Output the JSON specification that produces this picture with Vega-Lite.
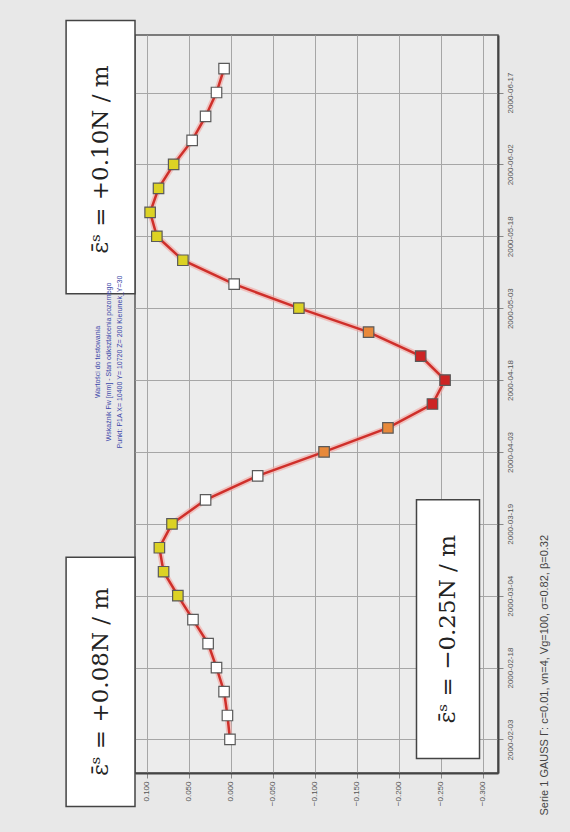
{
  "$schema": "https://vega.github.io/schema/vega-lite/v6.json",
  "width": 363,
  "height": 738,
  "autosize": "none",
  "padding": {"left": 135, "top": 35, "right": 72, "bottom": 59},
  "background": "#e8e8e8",
  "config": {
    "font": "Liberation Sans",
    "view": {"fill": "#ececec", "stroke": "#555555", "strokeWidth": 1.5}
  },
  "title": {
    "text": [
      "Wartości do testowania",
      "Wskaźnik Fw [mm] - Stan odkształcenia pozornego",
      "Punkt: P1A X= 10400 Y= 10720 Z= 200 Kierunek_Y=30"
    ],
    "orient": "left",
    "frame": "group",
    "anchor": "middle",
    "offset": -58,
    "dx": 42,
    "font": "Liberation Sans",
    "fontSize": 7,
    "fontWeight": "normal",
    "lineHeight": 11,
    "color": "#3a46a8"
  },
  "datasets": {
    "strain": [
      {"date": "2000-02-03", "value": 0.001, "band": "low"},
      {"date": "2000-02-08", "value": 0.004, "band": "low"},
      {"date": "2000-02-13", "value": 0.008, "band": "low"},
      {"date": "2000-02-18", "value": 0.017, "band": "low"},
      {"date": "2000-02-23", "value": 0.027, "band": "low"},
      {"date": "2000-02-28", "value": 0.045, "band": "low"},
      {"date": "2000-03-04", "value": 0.063, "band": "mid"},
      {"date": "2000-03-09", "value": 0.080, "band": "mid"},
      {"date": "2000-03-14", "value": 0.085, "band": "mid"},
      {"date": "2000-03-19", "value": 0.070, "band": "mid"},
      {"date": "2000-03-24", "value": 0.030, "band": "low"},
      {"date": "2000-03-29", "value": -0.032, "band": "low"},
      {"date": "2000-04-03", "value": -0.111, "band": "high"},
      {"date": "2000-04-08", "value": -0.187, "band": "high"},
      {"date": "2000-04-13", "value": -0.240, "band": "peak"},
      {"date": "2000-04-18", "value": -0.255, "band": "peak"},
      {"date": "2000-04-23", "value": -0.226, "band": "peak"},
      {"date": "2000-04-28", "value": -0.164, "band": "high"},
      {"date": "2000-05-03", "value": -0.081, "band": "mid"},
      {"date": "2000-05-08", "value": -0.004, "band": "low"},
      {"date": "2000-05-13", "value": 0.057, "band": "mid"},
      {"date": "2000-05-18", "value": 0.088, "band": "mid"},
      {"date": "2000-05-23", "value": 0.096, "band": "mid"},
      {"date": "2000-05-28", "value": 0.086, "band": "mid"},
      {"date": "2000-06-02", "value": 0.068, "band": "mid"},
      {"date": "2000-06-07", "value": 0.046, "band": "low"},
      {"date": "2000-06-12", "value": 0.030, "band": "low"},
      {"date": "2000-06-17", "value": 0.017, "band": "low"},
      {"date": "2000-06-22", "value": 0.008, "band": "low"}
    ],
    "notes": [
      {"label": "ε̄ˢ = +0.08N / m", "date": "2000-01-20", "date2": "2000-03-12", "value": 0.196, "value2": 0.114, "midDate": "2000-02-15", "midValue": 0.155},
      {"label": "ε̄ˢ = −0.25N / m", "date": "2000-01-30", "date2": "2000-03-24", "value": -0.221, "value2": -0.296, "midDate": "2000-02-26", "midValue": -0.2585},
      {"label": "ε̄ˢ = +0.10N / m", "date": "2000-05-06", "date2": "2000-07-02", "value": 0.196, "value2": 0.114, "midDate": "2000-06-03", "midValue": 0.155}
    ]
  },
  "encoding": {
    "x": {
      "field": "value",
      "type": "quantitative",
      "scale": {"domain": [-0.318, 0.114], "reverse": true, "nice": false, "zero": false},
      "axis": {
        "orient": "bottom",
        "values": [0.1, 0.05, 0, -0.05, -0.1, -0.15, -0.2, -0.25, -0.3],
        "format": ".3f",
        "labelAngle": 270,
        "labelAlign": "right",
        "labelBaseline": "middle",
        "labelFontSize": 8,
        "labelColor": "#555555",
        "labelPadding": 3,
        "tickColor": "#888888",
        "tickSize": 5,
        "domainColor": "#444444",
        "domainWidth": 2,
        "grid": true,
        "gridColor": "#a6a6a6",
        "title": null
      }
    },
    "y": {
      "field": "date",
      "type": "temporal",
      "scale": {
        "type": "utc",
        "domain": [
          {"year": 2000, "month": 1, "date": 27, "utc": true},
          {"year": 2000, "month": 6, "date": 29, "utc": true}
        ]
      },
      "axis": {
        "orient": "right",
        "values": [
          {"year": 2000, "month": 2, "date": 3, "utc": true},
          {"year": 2000, "month": 2, "date": 18, "utc": true},
          {"year": 2000, "month": 3, "date": 4, "utc": true},
          {"year": 2000, "month": 3, "date": 19, "utc": true},
          {"year": 2000, "month": 4, "date": 3, "utc": true},
          {"year": 2000, "month": 4, "date": 18, "utc": true},
          {"year": 2000, "month": 5, "date": 3, "utc": true},
          {"year": 2000, "month": 5, "date": 18, "utc": true},
          {"year": 2000, "month": 6, "date": 2, "utc": true},
          {"year": 2000, "month": 6, "date": 17, "utc": true}
        ],
        "labelExpr": "utcFormat(datum.value, '%Y-%m-%d')",
        "labelAngle": 270,
        "labelAlign": "center",
        "labelBaseline": "top",
        "labelFontSize": 8,
        "labelColor": "#555555",
        "labelPadding": 3,
        "tickColor": "#888888",
        "tickSize": 5,
        "domainColor": "#444444",
        "domainWidth": 2,
        "grid": true,
        "gridColor": "#a6a6a6",
        "title": "Serie 1  GAUSS Γ:  c=0.01,  vn=4,  Vg=100,  σ=0.82,  β=0.32",
        "titleAngle": 270,
        "titleAlign": "left",
        "titleBaseline": "middle",
        "titleFontSize": 11,
        "titleFontWeight": "normal",
        "titleColor": "#444444",
        "titleX": 46,
        "titleY": 780
      }
    }
  },
  "layer": [
    {
      "data": {"name": "notes"},
      "mark": {"type": "rect", "fill": "#ffffff", "stroke": "#444444", "strokeWidth": 1.5},
      "encoding": {
        "x2": {"field": "value2"},
        "y2": {"field": "date2"}
      }
    },
    {
      "data": {"name": "notes"},
      "mark": {"type": "text", "angle": 270, "align": "center", "baseline": "middle", "font": "DejaVu Serif", "fontSize": 23, "color": "#222222"},
      "encoding": {
        "x": {"field": "midValue", "type": "quantitative"},
        "y": {"field": "midDate", "type": "temporal"},
        "text": {"field": "label"}
      }
    },
    {
      "data": {"name": "strain"},
      "mark": {"type": "line", "color": "#f2a5a0", "strokeWidth": 6, "opacity": 0.6},
      "encoding": {"order": {"field": "date", "type": "temporal"}}
    },
    {
      "data": {"name": "strain"},
      "mark": {"type": "line", "color": "#cf2f2a", "strokeWidth": 2.5},
      "encoding": {"order": {"field": "date", "type": "temporal"}}
    },
    {
      "data": {"name": "strain"},
      "mark": {"type": "square", "size": 110, "filled": true, "opacity": 1, "stroke": "#5a5a5a", "strokeWidth": 1.2},
      "encoding": {
        "color": {
          "field": "band",
          "type": "nominal",
          "scale": {"domain": ["low", "mid", "high", "peak"], "range": ["#ffffff", "#dcd224", "#e8893a", "#cc2424"]},
          "legend": null
        }
      }
    }
  ]
}
